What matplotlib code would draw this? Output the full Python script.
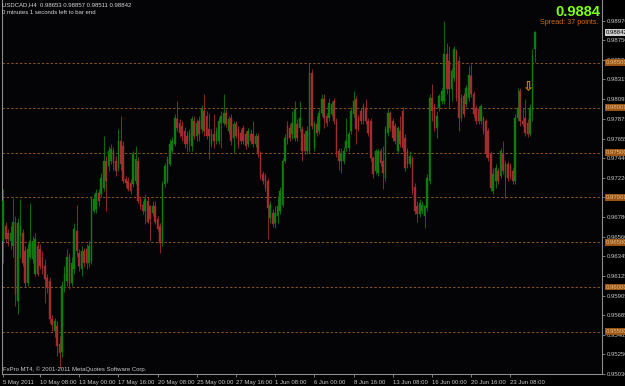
import matplotlib
matplotlib.use('Agg')
import matplotlib.pyplot as plt
import matplotlib.transforms as mtransforms
import numpy as np

# ---- data (USDCAD H4 candles) ----
opens = [0.9651, 0.9668, 0.9660, 0.9651, 0.9646, 0.9673, 0.9584, 0.9657, 0.9660, 0.9640,
         0.9604, 0.9634, 0.9631, 0.9615, 0.9646, 0.9642, 0.9634, 0.9624, 0.9610, 0.9607,
         0.9564, 0.9551, 0.9556, 0.9537, 0.9528, 0.9601, 0.9607, 0.9634, 0.9604, 0.9620,
         0.9662, 0.9638, 0.9620, 0.9640, 0.9642, 0.9627, 0.9629, 0.9685, 0.9687, 0.9705,
         0.9704, 0.9710, 0.9740, 0.9735, 0.9740, 0.9752, 0.9740, 0.9733, 0.9763, 0.9757,
         0.9720, 0.9718, 0.9716, 0.9715, 0.9718, 0.9740, 0.9698, 0.9692, 0.9685, 0.9696,
         0.9690, 0.9682, 0.9690, 0.9676, 0.9668, 0.9649, 0.9715, 0.9718, 0.9737, 0.9752,
         0.9760, 0.9787, 0.9783, 0.9780, 0.9774, 0.9768, 0.9763, 0.9757, 0.9785, 0.9768,
         0.9785, 0.9776, 0.9796, 0.9791, 0.9776, 0.9760, 0.9771, 0.9763, 0.9763, 0.9783,
         0.9783, 0.9794, 0.9774, 0.9788, 0.9766, 0.9782, 0.9776, 0.9772, 0.9777, 0.9771,
         0.9759, 0.9771, 0.9771, 0.9759, 0.9768, 0.9748, 0.9726, 0.9724, 0.9718, 0.9677,
         0.9682, 0.9671, 0.9679, 0.9685, 0.9692, 0.9740, 0.9780, 0.9777, 0.9771, 0.9766,
         0.9782, 0.9777, 0.9776, 0.9771, 0.9752, 0.9752, 0.9839, 0.9755, 0.9782, 0.9774,
         0.9794, 0.9810, 0.9791, 0.9788, 0.9793, 0.9807, 0.9785, 0.9752, 0.9740, 0.9740,
         0.9755, 0.9755, 0.9774, 0.9793, 0.9810, 0.9788, 0.9796, 0.9802, 0.9800, 0.9785,
         0.9785, 0.9744, 0.9729, 0.9727, 0.9752, 0.9740, 0.9722, 0.9772, 0.9794, 0.9785,
         0.9780, 0.9752, 0.9774, 0.9796, 0.9766, 0.9752, 0.9737, 0.9744, 0.9712, 0.9690,
         0.9681, 0.9685, 0.9679, 0.9688, 0.9718, 0.9811, 0.9802, 0.9777, 0.9800, 0.9807,
         0.9807, 0.9860, 0.9852, 0.9821, 0.9833, 0.9863, 0.9852, 0.9788, 0.9813, 0.9804,
         0.9811, 0.9835, 0.9815, 0.9800, 0.9798, 0.9785, 0.9788, 0.9785, 0.9774, 0.9748,
         0.9707, 0.9718, 0.9729, 0.9724, 0.9748, 0.9722, 0.9737, 0.9735, 0.9729, 0.9718,
         0.9788, 0.9819, 0.9785, 0.9788, 0.9783, 0.9771, 0.9796, 0.98653]

highs = [0.9709, 0.9673, 0.9665, 0.9668, 0.9699, 0.9679, 0.9677, 0.9698, 0.9665, 0.9646,
         0.9648, 0.9694, 0.9657, 0.9660, 0.9651, 0.9648, 0.9640, 0.9631, 0.9614, 0.9611,
         0.9569, 0.9566, 0.9562, 0.9545, 0.9607, 0.9623, 0.9642, 0.9638, 0.9634, 0.9671,
         0.9692, 0.9642, 0.9646, 0.9644, 0.9648, 0.9651, 0.9701, 0.9704, 0.9709, 0.9709,
         0.9727, 0.9768, 0.9746, 0.9757, 0.9759, 0.9756, 0.9746, 0.9776, 0.9791, 0.9763,
         0.9724, 0.9723, 0.9720, 0.9752, 0.9757, 0.9745, 0.9701, 0.9696, 0.9704, 0.9700,
         0.9692, 0.9696, 0.9696, 0.9679, 0.9671, 0.9718, 0.9738, 0.9746, 0.9765, 0.9767,
         0.9793, 0.9807, 0.9787, 0.9785, 0.9778, 0.9774, 0.9776, 0.9791, 0.9791, 0.9787,
         0.9791, 0.9803, 0.9815, 0.9796, 0.9794, 0.9776, 0.9793, 0.9778, 0.9790, 0.9796,
         0.9815, 0.9798, 0.9791, 0.9793, 0.9785, 0.9785, 0.9780, 0.9776, 0.9781, 0.9774,
         0.9777, 0.9776, 0.9785, 0.9772, 0.9772, 0.9752, 0.9729, 0.9727, 0.9722, 0.9696,
         0.9687, 0.9690, 0.9701, 0.9711, 0.9744, 0.9771, 0.9785, 0.9782, 0.9796, 0.9807,
         0.9787, 0.9807, 0.9780, 0.9774, 0.9780, 0.9850, 0.9843, 0.9785, 0.9791, 0.9798,
         0.9815, 0.9815, 0.9794, 0.9811, 0.9807, 0.9811, 0.9788, 0.9755, 0.9755, 0.9756,
         0.9788, 0.9774, 0.9801, 0.9819, 0.9813, 0.9792, 0.9800, 0.9805, 0.9810, 0.9788,
         0.9788, 0.9746, 0.9754, 0.9754, 0.9755, 0.9757, 0.9780, 0.9798, 0.9796, 0.9788,
         0.9783, 0.9780, 0.9791, 0.9801, 0.9771, 0.9755, 0.9752, 0.9746, 0.9716, 0.9696,
         0.9698, 0.9696, 0.9692, 0.9726, 0.9815, 0.9826, 0.9805, 0.9796, 0.9815, 0.9822,
         0.9897, 0.9872, 0.9869, 0.9844, 0.9869, 0.9866, 0.9858, 0.9815, 0.9816, 0.9825,
         0.9846, 0.9849, 0.9819, 0.9803, 0.9802, 0.9804, 0.9791, 0.9787, 0.9777, 0.9752,
         0.9733, 0.9737, 0.9733, 0.9755, 0.9763, 0.9740, 0.9740, 0.9738, 0.9733, 0.9793,
         0.9822, 0.9822, 0.9800, 0.9810, 0.9787, 0.9804, 0.9865, 0.98857]

lows = [0.9627, 0.9649, 0.9646, 0.9642, 0.9634, 0.9579, 0.9570, 0.9632, 0.9623, 0.9600,
        0.9601, 0.9631, 0.9627, 0.9612, 0.9612, 0.9620, 0.9615, 0.9582, 0.9593, 0.9560,
        0.9551, 0.9544, 0.9523, 0.9510, 0.9522, 0.9595, 0.9601, 0.9598, 0.9601, 0.9615,
        0.9634, 0.9618, 0.9612, 0.9622, 0.9620, 0.9622, 0.9626, 0.9682, 0.9682, 0.9690,
        0.9700, 0.9707, 0.9685, 0.9729, 0.9737, 0.9731, 0.9724, 0.9729, 0.9731, 0.9716,
        0.9711, 0.9707, 0.9704, 0.9711, 0.9715, 0.9694, 0.9687, 0.9681, 0.9670, 0.9671,
        0.9651, 0.9679, 0.9670, 0.9662, 0.9638, 0.9646, 0.9712, 0.9716, 0.9735, 0.9749,
        0.9757, 0.9774, 0.9767, 0.9763, 0.9755, 0.9752, 0.9752, 0.9752, 0.9765, 0.9763,
        0.9763, 0.9772, 0.9768, 0.9765, 0.9743, 0.9756, 0.9755, 0.9760, 0.9759, 0.9755,
        0.9781, 0.9778, 0.9771, 0.9758, 0.9749, 0.9766, 0.9755, 0.9759, 0.9759, 0.9754,
        0.9756, 0.9759, 0.9756, 0.9756, 0.9745, 0.9720, 0.9715, 0.9707, 0.9653, 0.9671,
        0.9667, 0.9666, 0.9671, 0.9681, 0.9689, 0.9738, 0.9760, 0.9763, 0.9765, 0.9763,
        0.9763, 0.9774, 0.9740, 0.9748, 0.9748, 0.9749, 0.9776, 0.9752, 0.9768, 0.9771,
        0.9791, 0.9777, 0.9780, 0.9785, 0.9791, 0.9782, 0.9745, 0.9731, 0.9727, 0.9737,
        0.9752, 0.9752, 0.9771, 0.9790, 0.9760, 0.9774, 0.9782, 0.9782, 0.9782, 0.9768,
        0.9740, 0.9722, 0.9726, 0.9724, 0.9735, 0.9709, 0.9718, 0.9768, 0.9774, 0.9763,
        0.9759, 0.9749, 0.9756, 0.9752, 0.9729, 0.9733, 0.9734, 0.9704, 0.9681, 0.9673,
        0.9678, 0.9681, 0.9666, 0.9685, 0.9715, 0.9785, 0.9774, 0.9766, 0.9796, 0.9804,
        0.9804, 0.9815, 0.9800, 0.9807, 0.9830, 0.9807, 0.9774, 0.9785, 0.9790, 0.9801,
        0.9807, 0.9812, 0.9790, 0.9782, 0.9782, 0.9782, 0.9771, 0.9745, 0.9740, 0.9707,
        0.9704, 0.9710, 0.9715, 0.9722, 0.9726, 0.9699, 0.9718, 0.9720, 0.9715, 0.9715,
        0.9785, 0.9780, 0.9780, 0.9768, 0.9767, 0.9768, 0.9785, 0.98511]

closes = [0.9696, 0.9654, 0.9653, 0.9660, 0.9673, 0.9592, 0.9671, 0.9668, 0.9627, 0.9604,
          0.9642, 0.9651, 0.9651, 0.9653, 0.9615, 0.9623, 0.9621, 0.9609, 0.9599, 0.9564,
          0.9558, 0.9562, 0.9534, 0.9526, 0.9601, 0.9614, 0.9634, 0.9603, 0.9627, 0.9665,
          0.9640, 0.9624, 0.9640, 0.9627, 0.9627, 0.9646, 0.9698, 0.9698, 0.9705, 0.9696,
          0.9722, 0.9740, 0.9718, 0.9752, 0.9754, 0.9738, 0.9729, 0.9763, 0.9737, 0.9718,
          0.9716, 0.9709, 0.9707, 0.9748, 0.9743, 0.9696, 0.9690, 0.9685, 0.9698, 0.9673,
          0.9676, 0.9690, 0.9673, 0.9665, 0.9649, 0.9715, 0.9735, 0.9743, 0.9760, 0.9763,
          0.9788, 0.9777, 0.9772, 0.9768, 0.9759, 0.9759, 0.9772, 0.9787, 0.9768, 0.9783,
          0.9771, 0.9798, 0.9774, 0.9768, 0.9768, 0.9771, 0.9763, 0.9774, 0.9785, 0.9791,
          0.9794, 0.9782, 0.9787, 0.9763, 0.9782, 0.9768, 0.9759, 0.9763, 0.9763, 0.9757,
          0.9774, 0.9763, 0.9759, 0.9768, 0.9748, 0.9724, 0.9718, 0.9710, 0.9688, 0.9692,
          0.9670, 0.9682, 0.9690, 0.9707, 0.9740, 0.9766, 0.9765, 0.9766, 0.9783, 0.9798,
          0.9766, 0.9788, 0.9752, 0.9752, 0.9774, 0.9839, 0.9780, 0.9782, 0.9772, 0.9794,
          0.9810, 0.9788, 0.9783, 0.9805, 0.9804, 0.9785, 0.9748, 0.9740, 0.9748, 0.9752,
          0.9763, 0.9771, 0.9796, 0.9807, 0.9776, 0.9776, 0.9785, 0.9785, 0.9785, 0.9772,
          0.9744, 0.9726, 0.9752, 0.9752, 0.9738, 0.9727, 0.9776, 0.9794, 0.9777, 0.9766,
          0.9763, 0.9777, 0.9759, 0.9755, 0.9733, 0.9737, 0.9746, 0.9707, 0.9685, 0.9681,
          0.9694, 0.9692, 0.9690, 0.9722, 0.9811, 0.9796, 0.9777, 0.9791, 0.9813, 0.9819,
          0.9860, 0.9821, 0.9821, 0.9841, 0.9865, 0.9811, 0.9788, 0.9811, 0.9793, 0.9822,
          0.9837, 0.9815, 0.9793, 0.9785, 0.9785, 0.9802, 0.9774, 0.9748, 0.9744, 0.9710,
          0.9726, 0.9733, 0.9718, 0.9752, 0.9729, 0.9737, 0.9722, 0.9724, 0.9718, 0.9788,
          0.9800, 0.9785, 0.9782, 0.9772, 0.9771, 0.9800, 0.9858, 0.98842]

# date labels on the time axis (bar index, text)
date_ticks = [0, 15, 31, 47, 63, 79, 95, 111, 127, 143, 159, 175, 191, 207]
date_labels = ['5 May 2011', '10 May 08:00', '13 May 00:00', '17 May 16:00', '20 May 08:00',
               '25 May 00:00', '27 May 16:00', '1 Jun 08:00', '6 Jun 00:00', '8 Jun 16:00',
               '13 Jun 08:00', '16 Jun 00:00', '20 Jun 16:00', '23 Jun 08:00']

# price scale labels
price_ticks = [0.98970, 0.98750, 0.98530, 0.98315, 0.98095, 0.97875, 0.97655, 0.97440,
               0.97220, 0.97000, 0.96780, 0.96560, 0.96345, 0.96125, 0.95905, 0.95685,
               0.95465, 0.95250, 0.95030]

# horizontal level lines
levels = [0.98500, 0.98000, 0.97500, 0.97000, 0.96500, 0.96000, 0.95500]

last_price = 0.98842
arrow_bar = 214
arrow_price = 0.9822

# ---- figure ----
W, H = 625, 386
fig = plt.figure(figsize=(W / 100, H / 100), dpi=100, facecolor='black')
ax = fig.add_axes([2 / W, (H - 374) / H, 600 / W, 374 / H])
ax.set_facecolor('#040306')

FONT = 'Liberation Sans'
n = len(closes)
idx = np.arange(n)
o = np.array(opens); c = np.array(closes); hi = np.array(highs); lo = np.array(lows)
up = c >= o
bull, bear = '#0f7c0f', '#a02e2e'
cols = np.where(up, bull, bear)

for lv in levels:
    ax.axhline(lv, color='#8a5420', lw=0.7, ls=(0, (2.5, 2)), zorder=1)

ax.vlines(idx, lo, hi, colors=cols, lw=0.6, zorder=2)
ax.bar(idx, np.maximum(np.abs(c - o), 0.00004), bottom=np.minimum(o, c), width=0.7,
       color=cols, edgecolor=cols, lw=0.3, zorder=3)

ax.set_xlim(-0.5, 244.4)
ax.set_ylim(0.9503, 0.99201)

for s in ['right', 'bottom', 'left']:
    ax.spines[s].set_color('#8c8c8c')
    ax.spines[s].set_linewidth(0.8)
ax.spines['top'].set_visible(False)

ax.yaxis.tick_right()
ax.set_yticks(price_ticks)
ax.set_yticklabels(['%.5f' % v for v in price_ticks])
ax.tick_params(axis='y', colors='#8c8c8c', labelcolor='#c8c8c8', length=2, width=0.6,
               pad=1.5, labelsize=4.3)
ax.set_xticks(date_ticks)
ax.set_xticklabels(date_labels)
ax.tick_params(axis='x', colors='#8c8c8c', labelcolor='#c8c8c8', length=2.5, width=0.6,
               pad=1.5, labelsize=4.3)
for lab in ax.get_xticklabels() + ax.get_yticklabels():
    lab.set_fontfamily(FONT)
for lab in ax.get_xticklabels():
    lab.set_horizontalalignment('left')

trans = mtransforms.blended_transform_factory(ax.transAxes, ax.transData)
for lv in levels:
    ax.text(1.006, lv, '%.5f' % lv, transform=trans, fontsize=4.3, family=FONT,
            color='#e8c08a', va='center', ha='left', clip_on=False, zorder=6,
            bbox=dict(boxstyle='square,pad=0.15', fc='#9a5514', ec='none'))
ax.text(1.006, last_price, '%.5f' % last_price, transform=trans, fontsize=4.3, family=FONT,
        color='#000000', va='center', ha='left', clip_on=False, zorder=6,
        bbox=dict(boxstyle='square,pad=0.15', fc='#d0d0d0', ec='none'))

ax.text(arrow_bar, arrow_price, '\u21e9', fontsize=9.5, family='DejaVu Sans',
        weight='bold', color='#f08a10', ha='center', va='center', zorder=5)

fig.text(2 / W, 1 - 5 / H, 'USDCAD,H4  0.98653 0.98857 0.98511 0.98842', fontsize=4.3,
         family=FONT, color='#d8d8d8', va='center', ha='left')
fig.text(2 / W, 1 - 13 / H, '0 minutes 1 seconds left to bar end', fontsize=4.3,
         family=FONT, color='#d8d8d8', va='center', ha='left')
fig.text(600 / W, 1 - 12 / H, '0.9884', fontsize=10.5, family=FONT, weight='bold',
         color='#80ff10', va='center', ha='right')
fig.text(599 / W, 1 - 22.5 / H, 'Spread: 37 points.', fontsize=5.2, family=FONT,
         color='#d06a10', va='center', ha='right')
fig.text(3 / W, 1 - 369 / H, 'FxPro MT4, \u00a9 2001-2011 MetaQuotes Software Corp.',
         fontsize=4.3, family=FONT, color='#c8c8c8', va='center', ha='left')

fig.savefig('out.png', dpi=100, facecolor='black')
